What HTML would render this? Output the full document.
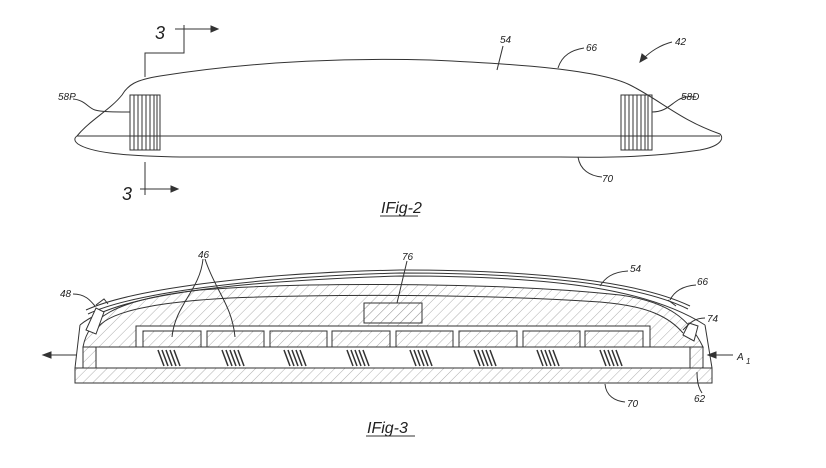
<!DOCTYPE html>
<html><head><meta charset="utf-8"><style>
html,body{margin:0;padding:0;background:#fff;}
svg{display:block}
text{font-family:"Liberation Sans",sans-serif;font-style:italic;fill:#222;}
</style></head><body>
<svg width="826" height="468" viewBox="0 0 826 468" xmlns="http://www.w3.org/2000/svg">
<defs>
<pattern id="h" width="7" height="7" patternUnits="userSpaceOnUse" patternTransform="rotate(45)">
<line x1="0" y1="0" x2="0" y2="7" stroke="#999" stroke-width="0.8"/>
</pattern>
</defs>
<g fill="none" stroke="#333" stroke-width="1">
<!-- Fig 2 -->
<path d="M145,77 V53 H184 V25"/>
<path d="M175,29 H212"/><path d="M218,29 l-7,-3 v6z" fill="#333"/>
<path d="M145,162 V195"/>
<path d="M140,189 H172"/><path d="M178,189 l-7,-3 v6z" fill="#333"/>
<path d="M77,136 C90,120 110,110 122,95 C128,85 135,80 160,76 C260,60 360,58 430,60 C520,64 600,70 630,85 C660,100 680,120 720,134 C724,138 722,146 700,150 C660,156 620,158 560,157 L180,157 C120,156 90,152 78,144 C74,141 74,138 77,136 Z"/>
<path d="M77,136 H720"/>
<rect x="130" y="95" width="30" height="55"/>
<path d="M134,95v55M138,95v55M142,95v55M146,95v55M150,95v55M154,95v55M157,95v55"/>
<rect x="621" y="95" width="31" height="55"/>
<path d="M625,95v55M629,95v55M633,95v55M637,95v55M641,95v55M645,95v55M648,95v55"/>
<path d="M73,99 C85,100 88,108 95,110 S115,112 130,112"/>
<path d="M652,112 C665,112 670,105 678,100 S690,97 696,97"/>
<path d="M503,46 L497,70"/>
<path d="M584,48 C572,50 562,55 558,68"/>
<path d="M672,42 C660,45 650,52 644,58"/><path d="M640,62 l2,-8 l5,4z" fill="#333"/>
<path d="M578,157 C580,170 590,176 602,177"/>
<!-- Fig 3 -->
<rect x="75" y="368" width="637" height="15" fill="url(#h)"/>
<path d="M75,368 L80,325 M712,368 L705,325"/>
<path d="M80,325 C110,300 200,282 400,276 C560,276 650,290 705,325" />
<path d="M83,347 V368 M703,347 V368"/>
<rect x="83" y="347" width="13" height="21" fill="url(#h)"/>
<rect x="690" y="347" width="13" height="21" fill="url(#h)"/>
<path d="M96,347 H690"/>
<path d="M83,347 C88,320 110,300 200,290 C300,282 500,282 620,295 C670,302 690,320 703,347 Z" fill="url(#h)"/>
<path d="M95,333 C100,315 140,303 230,298 C330,294 480,294 600,302 C650,306 670,318 683,333"/>
<path d="M86,310 C130,290 250,273 400,270 C540,270 640,282 690,306"/>
<path d="M88,314 C130,294 250,277 400,273 C540,273 640,285 688,309"/>
<rect x="136" y="326" width="514" height="21" fill="#fff"/>
<g fill="url(#h)">
<rect x="143" y="331" width="58" height="16"/><rect x="207" y="331" width="57" height="16"/>
<rect x="270" y="331" width="57" height="16"/><rect x="332" y="331" width="58" height="16"/>
<rect x="396" y="331" width="57" height="16"/><rect x="459" y="331" width="58" height="16"/>
<rect x="523" y="331" width="57" height="16"/><rect x="585" y="331" width="58" height="16"/>
<rect x="364" y="303" width="58" height="20"/>
</g>
<path d="M86,330 l10,-22 l8,4 l-8,22z M683,335 l6,-12 l9,3 l-4,15z" fill="#fff"/>
<path d="M96,305 l8,-6 l4,5 M668,300 l8,6" />
<g stroke="#333" stroke-width="1.5">
<path d="M158,350l6,16M162,350l6,16M166,350l6,16M170,350l6,16M174,350l6,16"/>
<path d="M222,350l6,16M226,350l6,16M230,350l6,16M234,350l6,16M238,350l6,16"/>
<path d="M284,350l6,16M288,350l6,16M292,350l6,16M296,350l6,16M300,350l6,16"/>
<path d="M347,350l6,16M351,350l6,16M355,350l6,16M359,350l6,16M363,350l6,16"/>
<path d="M410,350l6,16M414,350l6,16M418,350l6,16M422,350l6,16M426,350l6,16"/>
<path d="M474,350l6,16M478,350l6,16M482,350l6,16M486,350l6,16M490,350l6,16"/>
<path d="M537,350l6,16M541,350l6,16M545,350l6,16M549,350l6,16M553,350l6,16"/>
<path d="M600,350l6,16M604,350l6,16M608,350l6,16M612,350l6,16M616,350l6,16"/>
</g>
<path d="M203,259 C200,290 175,305 172,337 M205,259 C215,290 232,305 235,337"/>
<path d="M407,261 L397,303"/>
<path d="M628,271 C612,272 605,278 600,286"/>
<path d="M696,285 C682,286 674,292 670,300"/>
<path d="M73,294 C85,294 90,300 95,306"/>
<path d="M705,318 C693,318 688,325 683,330"/>
<path d="M733,355 H714"/><path d="M708,355 l8,-3 v6z" fill="#333"/>
<path d="M77,355 H50"/><path d="M43,355 l8,-3 v6z" fill="#333"/>
<path d="M605,384 C606,396 615,401 625,402"/>
<path d="M697,372 C697,385 700,390 702,393"/>
<path d="M380,216 H418 M366,436 H415"/>
</g>
<g font-size="10">
<text x="58" y="100">58P</text><text x="681" y="100">58D</text>
<text x="500" y="43">54</text><text x="586" y="51">66</text><text x="675" y="45">42</text>
<text x="602" y="182">70</text>
<text x="198" y="258">46</text><text x="402" y="260">76</text><text x="630" y="272">54</text>
<text x="697" y="285">66</text><text x="60" y="297">48</text><text x="707" y="322">74</text>
<text x="737" y="360">A</text><text x="746" y="364" font-size="8">1</text>
<text x="627" y="407">70</text><text x="694" y="402">62</text>
</g>
<g font-size="18"><text x="155" y="39">3</text><text x="122" y="200">3</text></g>
<g font-size="16"><text x="381" y="213">IFig-2</text><text x="367" y="433">IFig-3</text></g>
</svg>
</body></html>
